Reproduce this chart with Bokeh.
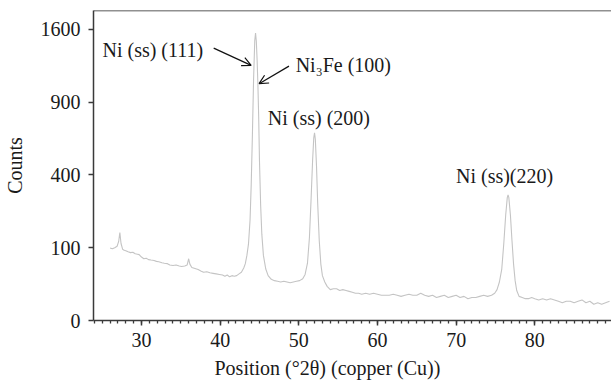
import numpy as np
from bokeh.plotting import figure
from bokeh.models import (ColumnDataSource, FixedTicker, CustomJSTickFormatter,
                          Span, Arrow, OpenHead, Title)
from bokeh.core.properties import value
from bokeh.embed import file_html
from bokeh.resources import INLINE

# --- data (2theta in degrees, counts) ---
two_theta = [26.0, 26.3, 26.6, 26.9, 27.1, 27.25, 27.4, 27.6, 27.8, 28.0, 28.3, 28.6, 28.9,
             29.2, 29.5, 29.7, 30.0, 30.3, 30.6, 30.9, 31.2, 31.6, 31.9, 32.2, 32.6, 32.9,
             33.3, 33.6, 34.0, 34.4, 34.8, 35.1, 35.5, 35.8, 36.0, 36.15, 36.4, 36.8, 37.2,
             37.6, 37.9, 38.3, 38.7, 39.1, 39.5, 39.9, 40.3, 40.6, 40.9, 41.2, 41.5, 41.8,
             42.1, 42.4, 42.7, 43.0, 43.2, 43.4, 43.6, 43.8, 43.95, 44.1, 44.25, 44.4, 44.5,
             44.6, 44.7, 44.8, 44.9, 45.0, 45.15, 45.3, 45.5, 45.8, 46.1, 46.5, 46.9, 47.3,
             47.7, 48.1, 48.5, 48.9, 49.3, 49.7, 50.1, 50.5, 50.8, 51.1, 51.35, 51.55, 51.75,
             51.9, 52.0, 52.1, 52.25, 52.4, 52.6, 52.8, 53.0, 53.3, 53.6, 54.0, 54.4, 54.8,
             55.2, 55.6, 56.0, 56.4, 56.8, 57.2, 57.6, 58.0, 58.5, 59.0, 59.5, 60.0, 60.5,
             61.0, 61.5, 62.0, 62.5, 63.0, 63.5, 64.0, 64.5, 65.0, 65.5, 66.0, 66.5, 67.0,
             67.5, 68.0, 68.5, 69.0, 69.5, 70.0, 70.5, 71.0, 71.5, 72.0, 72.5, 73.0, 73.5,
             74.0, 74.5, 74.9, 75.2, 75.5, 75.8, 76.05, 76.3, 76.5, 76.6, 76.7, 76.9, 77.1,
             77.3, 77.5, 77.7, 78.0, 78.4, 78.8, 79.2, 79.6, 80.0, 80.5, 81.0, 81.5, 82.0,
             82.5, 83.0, 83.5, 84.0, 84.5, 85.0, 85.5, 86.0, 86.5, 87.0, 87.5, 88.0, 88.5,
             89.0, 89.5]
counts = [99, 97, 100, 104, 118, 146, 112, 96, 93, 92, 89, 87, 88,
          84, 83, 82, 76, 72, 73, 70, 69, 68, 66, 65, 63, 62,
          61, 58, 57, 58, 56, 55, 56, 58, 72, 60, 53, 51, 49,
          46, 44, 45, 43, 42, 41, 40, 39, 37, 39, 36, 38, 37,
          38, 41, 44, 52, 61, 80, 110, 190, 350, 650, 1100, 1480, 1560,
          1470, 1280, 1050, 780, 480, 250, 140, 80, 50, 38, 32, 30, 29,
          28, 29, 28, 27, 28, 29, 30, 33, 40, 62, 130, 270, 480,
          630, 665, 620, 450, 260, 120, 60, 38, 28, 22, 18, 19, 19,
          17, 18, 17, 16, 15, 14, 14, 13, 14, 13, 14, 13, 12,
          12, 12, 13, 12, 11, 12, 13, 12, 12, 14, 12, 11, 12,
          10, 11, 12, 10, 11, 12, 10, 11, 9, 10, 10, 11, 12,
          11, 12, 14, 18, 28, 50, 110, 210, 285, 298, 285, 210, 120,
          60, 30, 17, 11, 10, 9, 9, 10, 9, 8, 9, 8, 9,
          8, 7, 6, 7, 7, 6, 7, 8, 6, 7, 5, 6, 5,
          6, 7]

x_ticks = [30, 40, 50, 60, 70, 80]
y_tick_counts = [0, 100, 400, 900, 1600]

peak_labels = ["Ni (ss) (111)", "Ni\u2083Fe (100)", "Ni (ss) (200)", "Ni (ss)(220)"]
label_x = [25.04, 49.6, 46.05, 69.98]
label_counts = [1377, 1233, 775, 397]

FONT = "Liberation Serif"
FS = "20px"
AX = "#3a3a3a"
TXT = "#1a1a1a"

src = ColumnDataSource(dict(x=two_theta, y=np.sqrt(counts)))

p = figure(width=611, height=391, output_backend="svg", toolbar_location=None,
           x_range=(23.9, 89.75), y_range=(0, 42.6),
           min_border_left=91, min_border_right=0, min_border_top=10,
           min_border_bottom=71)
p.outline_line_color = None
p.background_fill_color = "white"
p.border_fill_color = "white"
p.xgrid.visible = False
p.ygrid.visible = False

p.line("x", "y", source=src, line_color="#c4c4c4", line_width=1.1)

# top frame line
p.add_layout(Span(location=42.6, dimension="width", line_color="#222222", line_width=1.5))

# axes
xa = p.xaxis[0]
xa.ticker = FixedTicker(ticks=x_ticks, minor_ticks=list(range(24, 90)))
ya = p.yaxis[0]
ya.ticker = FixedTicker(ticks=list(np.sqrt(y_tick_counts)), minor_ticks=[])
ya.formatter = CustomJSTickFormatter(code="return Math.round(tick*tick).toString();")
ya.axis_label = "Counts"

for ax in (xa, ya):
    ax.axis_line_color = AX
    ax.axis_line_width = 1.5
    ax.major_tick_line_color = AX
    ax.major_tick_line_width = 1.5
    ax.minor_tick_line_color = AX
    ax.minor_tick_line_width = 1.3
    ax.major_tick_in = 0
    ax.major_tick_out = 5
    ax.minor_tick_in = 0
    ax.minor_tick_out = 3
    ax.major_label_text_font = FONT
    ax.major_label_text_font_size = FS
    ax.major_label_text_color = TXT
    ax.axis_label_text_font = FONT
    ax.axis_label_text_font_size = FS
    ax.axis_label_text_font_style = "normal"
    ax.axis_label_text_color = TXT
xa.major_label_standoff = 7
ya.major_label_standoff = 8
ya.axis_label_standoff = 12

# x-axis title, placed under the axis like in the original (left-shifted)
p.add_layout(Title(text="Position (\u00b02\u03b8) (copper (Cu))", align="left", offset=121,
                   text_font=FONT, text_font_size=FS, text_color=TXT,
                   text_font_style="normal", standoff=11), "below")

# peak labels
lab = ColumnDataSource(dict(x=label_x, y=np.sqrt(label_counts), t=peak_labels))
p.text("x", "y", text="t", source=lab, text_font=value(FONT), text_font_size=FS,
       text_color=TXT, text_align="left", text_baseline="middle")

# arrows
arrow_tail_x = [39.18, 48.75]
arrow_tail_counts = [1401, 1222]
arrow_tip_x = [43.94, 44.95]
arrow_tip_counts = [1229, 1059]
for tx, tc, hx, hc in zip(arrow_tail_x, arrow_tail_counts, arrow_tip_x, arrow_tip_counts):
    p.add_layout(Arrow(end=OpenHead(size=9, line_width=1.2, line_color="#111111"),
                       x_start=tx, y_start=float(np.sqrt(tc)),
                       x_end=hx, y_end=float(np.sqrt(hc)),
                       line_color="#111111", line_width=1.2))

open("out.html", "w").write(file_html(p, INLINE))
